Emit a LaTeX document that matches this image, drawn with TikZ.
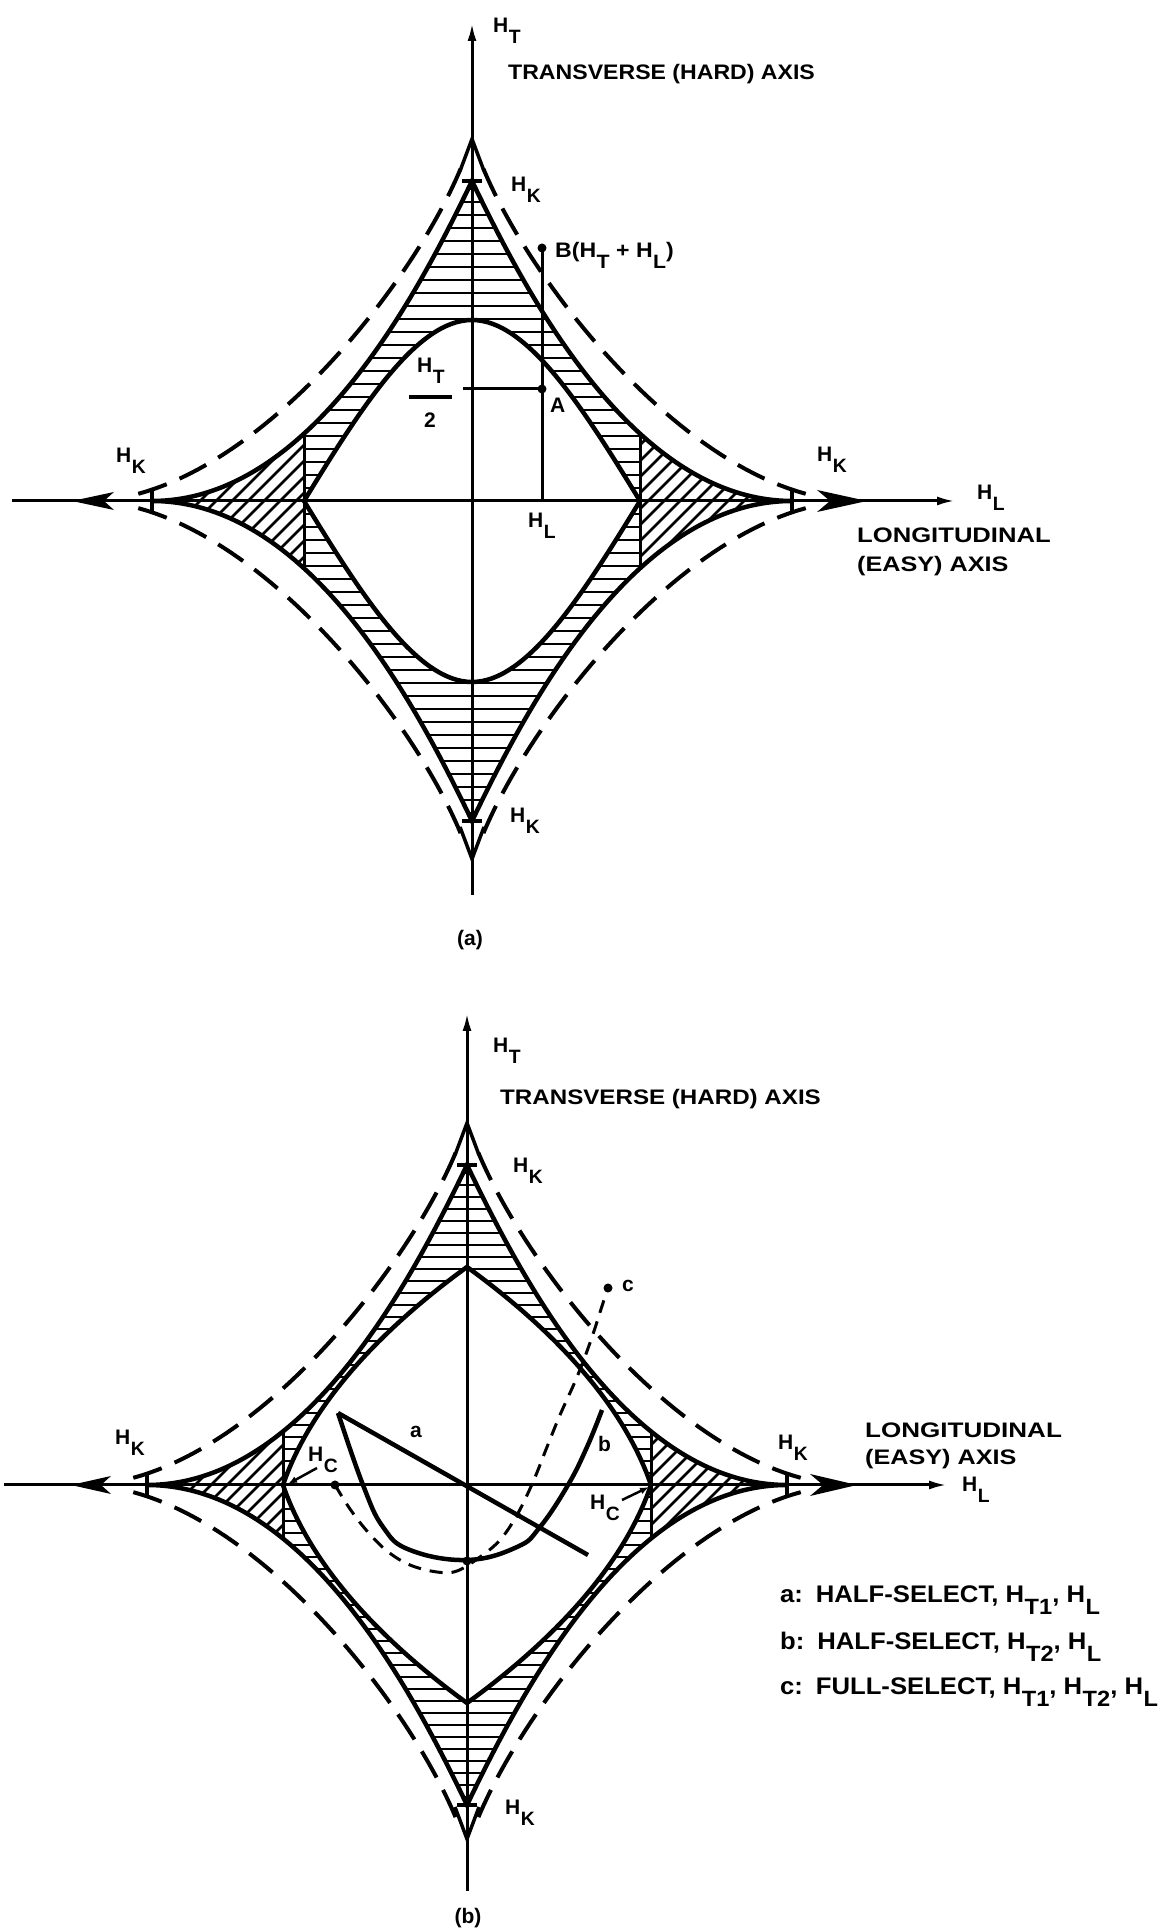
\documentclass[tikz,border=0pt]{standalone}
\usepackage{graphicx}
\usepackage{fontspec}
\setmainfont{Liberation Sans}
\usetikzlibrary{arrows.meta}
\newcommand{\Hs}[1]{H\kern0.02em\raisebox{-0.5em}{\scalebox{0.92}{#1}}}
\newcommand{\wid}[2]{\scalebox{#1}[1]{#2}}
\newcommand{\outerpath}{(320,0) .. controls (160,0) and (52,212) .. (0,320)
   .. controls (-52,212) and (-160,0) .. (-320,0)
   .. controls (-160,0) and (-52,-212) .. (0,-320)
   .. controls (52,-212) and (160,0) .. (320,0) -- cycle}
\newcommand{\innera}{(168,0) .. controls (110,95) and (55,181) .. (0,181)
   .. controls (-55,181) and (-110,95) .. (-168,0)
   .. controls (-110,-95) and (-55,-181) .. (0,-181)
   .. controls (55,-181) and (110,-95) .. (168,0) -- cycle}
\newcommand{\innerb}{(184,0) .. controls (155,85) and (80,160) .. (0,218)
   .. controls (-80,160) and (-155,85) .. (-184,0)
   .. controls (-155,-85) and (-80,-160) .. (0,-218)
   .. controls (80,-160) and (155,-85) .. (184,0) -- cycle}
\tikzset{
  lbl/.style={font=\fontsize{21}{24}\selectfont\bfseries, inner sep=0pt, anchor=base west},
  ctr/.style={font=\fontsize{21}{24}\selectfont\bfseries, inner sep=0pt, anchor=center},
  legend/.style={font=\fontsize{24}{28}\selectfont\bfseries, inner sep=0pt, anchor=base west},
  axisline/.style={line width=3pt},
  solidast/.style={line width=4.5pt, line join=miter},
  innerc/.style={line width=4.5pt},
  dashast/.style={line width=4pt, dash pattern=on 30pt off 14pt},
  hatch/.style={line width=2.8pt},
  chev/.style={line width=3.5pt, line join=miter},
  hktick/.style={line width=4.5pt},
  corner/.style={line width=3pt},
  curv/.style={line width=4.5pt},
  dashc/.style={line width=3pt, dash pattern=on 13pt off 9pt},
  dot/.style={circle, fill, inner sep=0pt, minimum size=9pt},
  smalldot/.style={circle, fill, inner sep=0pt, minimum size=6pt},
  mainarrow/.style={-{Latex[length=18pt,width=9pt]}},
}
\begin{document}
\begin{tikzpicture}[x=1pt,y=1pt]
\useasboundingbox (0,0) rectangle (1174,1931);
\fill[white] (0,0) rectangle (1174,1931);

%%%%%%%%%%%%%%%% (a)
\begin{scope}[shift={(472,1430)}]
  \begin{scope}
    \clip \outerpath;
    \clip (-168,-330) rectangle (168,330);
    \foreach \yy in {-312,-299,...,312} \draw[hatch] (-170,\yy) -- (170,\yy);
  \end{scope}
  \begin{scope}
    \clip \outerpath;
    \clip (-330,-100) rectangle (-168,100) (168,-100) rectangle (330,100);
    \foreach \k in {-30,...,30} \draw[hatch] ({\k*16-120},-120) -- ({\k*16+120},120);
  \end{scope}
  \fill[white] \innera;
  \draw[corner] (-168,-66) -- (-168,66);
  \draw[corner] (168,-66) -- (168,66);
  \draw[solidast] \outerpath;
  \draw[innerc] \innera;
  \foreach \sx/\sy in {1/1,-1/1,-1/-1,1/-1}{
    \draw[dashast] plot[domain=0.1:0.92,samples=50,variable=\t]
      ({\sx*(385*(1-\t)*(1-\t)*(1-\t)+645*(1-\t)*(1-\t)*\t+90*(1-\t)*\t*\t)},
       {\sy*(756*(1-\t)*\t*\t+365*\t*\t*\t)});
  }
  % axes
  \coordinate (aW) at (-460,0); \coordinate (aE) at (483,0);
  \coordinate (aS) at (0,-394); \coordinate (aN) at (0,478);
  \draw[axisline,mainarrow] (aW) -- (aE);
  \draw[axisline,mainarrow] (aS) -- (aN);
  % chevrons and arrowheads
  \draw[chev] (-12,330) -- (0,362) -- (12,330);
  \draw[chev] (-12,-326) -- (0,-358) -- (12,-326);
  \fill (395,0) -- (345,11) -- (358,0) -- (345,-11) -- cycle;
  \fill (-400,0) -- (-358,9) -- (-368,0) -- (-358,-9) -- cycle;
  % HK ticks
  \draw[hktick] (-10,320) -- (10,320);
  \draw[hktick] (-10,-320) -- (10,-320);
  \draw[hktick] (320,-11) -- (320,11);
  \draw[hktick] (-320,-11) -- (-320,11);
  % B and A
  \node[dot] (aB) at (70,253) {};
  \node[dot] (aA) at (70,112) {};
  \coordinate (aBase) at (70,0);
  \coordinate (aHline) at (-9,112);
  \draw[axisline] (aB.center) -- (aBase);
  \draw[axisline] (aHline) -- (aA.center);
  \coordinate (aBar1) at (-63,104); \coordinate (aBar2) at (-20,104);
  \draw[line width=3.5pt] (aBar1) -- (aBar2);
  % labels
  \node[lbl] (aHT) at (21,468) {\Hs{T}};
  \node[lbl] (aTR) at (36,421) {\wid{1.1}{TRANSVERSE (HARD) AXIS}};
  \node[lbl] (aHKn) at (39,309) {\Hs{K}};
  \node[lbl] (aBl) at (83,243) {\wid{1.1}{B(\Hs{T} + \Hs{L})}};
  \node[lbl] (aAl) at (78,88) {A};
  \node[lbl] (aFr) at (-55,128) {\Hs{T}};
  \node[ctr] (a2) at (-42,81) {2};
  \node[lbl] (aHL) at (56,-27) {\Hs{L}};
  \node[lbl] (aHKw) at (-356,38) {\Hs{K}};
  \node[lbl] (aHKe) at (345,39) {\Hs{K}};
  \node[lbl] (aHLe) at (505,1) {\Hs{L}};
  \node[lbl] (aLong) at (385,-42) {\wid{1.22}{LONGITUDINAL}};
  \node[lbl] (aEasy) at (385,-71) {\wid{1.2}{(EASY) AXIS}};
  \node[lbl] (aHKs) at (38,-322) {\Hs{K}};
  \node[ctr] (aCap) at (-2,-439) {(a)};
\end{scope}

%%%%%%%%%%%%%%%% (b)
\begin{scope}[shift={(467,446)}]
  \begin{scope}
    \clip \outerpath;
    \clip (-184,-330) rectangle (184,330);
    \foreach \yy in {-312,-300,...,312} \draw[hatch] (-186,\yy) -- (186,\yy);
  \end{scope}
  \begin{scope}
    \clip \outerpath;
    \clip (-330,-100) rectangle (-184,100) (184,-100) rectangle (330,100);
    \foreach \k in {-30,...,30} \draw[hatch] ({\k*16-120},-120) -- ({\k*16+120},120);
  \end{scope}
  \fill[white] \innerb;
  \draw[corner] (-184,-55) -- (-184,55);
  \draw[corner] (184,-55) -- (184,55);
  \draw[solidast] \outerpath;
  \draw[innerc] \innerb;
  \foreach \sx/\sy in {1/1,-1/1,-1/-1,1/-1}{
    \draw[dashast] plot[domain=0.1:0.92,samples=50,variable=\t]
      ({\sx*(385*(1-\t)*(1-\t)*(1-\t)+645*(1-\t)*(1-\t)*\t+90*(1-\t)*\t*\t)},
       {\sy*(756*(1-\t)*\t*\t+365*\t*\t*\t)});
  }
  % axes
  \coordinate (bW) at (-463,0); \coordinate (bE) at (480,0);
  \coordinate (bS) at (0,-406); \coordinate (bN) at (0,472);
  \draw[axisline,mainarrow] (bW) -- (bE);
  \draw[axisline,mainarrow] (bS) -- (bN);
  \draw[chev] (-12,330) -- (0,362) -- (12,330);
  \draw[chev] (-12,-322) -- (0,-354) -- (12,-322);
  \fill (390,0) -- (343,11) -- (356,0) -- (343,-11) -- cycle;
  \fill (-396,0) -- (-356,9) -- (-366,0) -- (-356,-9) -- cycle;
  \draw[hktick] (-10,320) -- (10,320);
  \draw[hktick] (-10,-320) -- (10,-320);
  \draw[hktick] (320,-11) -- (320,11);
  \draw[hktick] (-320,-11) -- (-320,11);
  % curve a (straight) and curve b
  \coordinate (ba1) at (-129,72); \coordinate (ba2) at (121,-70);
  \draw[curv] (ba1) -- (ba2);
  \draw[curv] plot[smooth,tension=0.7] coordinates {(-129,72) (-104,0) (-84,-42) (-57,-65) (0,-75) (50,-62) (73,-42) (101,0) (120,38) (135,75)};
  % curve c
  \node[dot] (bc0) at (-132,0) {};
  \node[dot] (bc1) at (141,197) {};
  \draw[dashc] plot[smooth,tension=0.6] coordinates {(-132,0) (-117,-24) (-100,-46) (-80,-66) (-57,-80) (-30,-87) (-10,-86) (13,-72) (33,-55) (50,-30) (66,3) (80,38) (93,70) (110,108) (124,145) (136,182) (141,197)};
  \node[dot] (bbot) at (0,-76) {};
  \node[smalldot] (bx) at (51,-30) {};
  % HC arrows
  \coordinate (hcw1) at (-150,17); \coordinate (hcw2) at (-179,1);
  \coordinate (hce1) at (155,-15); \coordinate (hce2) at (182,-2);
  \draw[line width=2.5pt,-{Latex[length=9pt,width=7pt]}] (hcw1) -- (hcw2);
  \draw[line width=2.5pt,-{Latex[length=9pt,width=7pt]}] (hce1) -- (hce2);
  % labels
  \node[lbl] (bHT) at (26,432) {\Hs{T}};
  \node[lbl] (bTR) at (33,380) {\wid{1.15}{TRANSVERSE (HARD) AXIS}};
  \node[lbl] (bHKn) at (46,312) {\Hs{K}};
  \node[lbl] (bcl) at (155,193) {c};
  \node[lbl] (bal) at (-57,47) {a};
  \node[lbl] (bbl) at (131,33) {b};
  \node[lbl] (bHCw) at (-159,23) {\Hs{C}};
  \node[lbl] (bHCe) at (123,-25) {\Hs{C}};
  \node[lbl] (bHKe) at (311,35) {\Hs{K}};
  \node[lbl] (bHKw) at (-352,40) {\Hs{K}};
  \node[lbl] (bLong) at (398,47) {\wid{1.24}{LONGITUDINAL}};
  \node[lbl] (bEasy) at (398,20) {\wid{1.2}{(EASY) AXIS}};
  \node[lbl] (bHLe) at (495,-7) {\Hs{L}};
  \node[lbl] (bHKs) at (38,-330) {\Hs{K}};
  \node[ctr] (bCap) at (1,-433) {(b)};
  \node[legend] (leg1) at (313,-118) {\wid{1.07}{a:\enspace HALF-SELECT, \Hs{T1}, \Hs{L}}};
  \node[legend] (leg2) at (313,-165) {\wid{1.07}{b:\enspace HALF-SELECT, \Hs{T2}, \Hs{L}}};
  \node[legend] (leg3) at (313,-210) {\wid{1.07}{c:\enspace FULL-SELECT, \Hs{T1}, \Hs{T2}, \Hs{L}}};
\end{scope}
\end{tikzpicture}
\end{document}
